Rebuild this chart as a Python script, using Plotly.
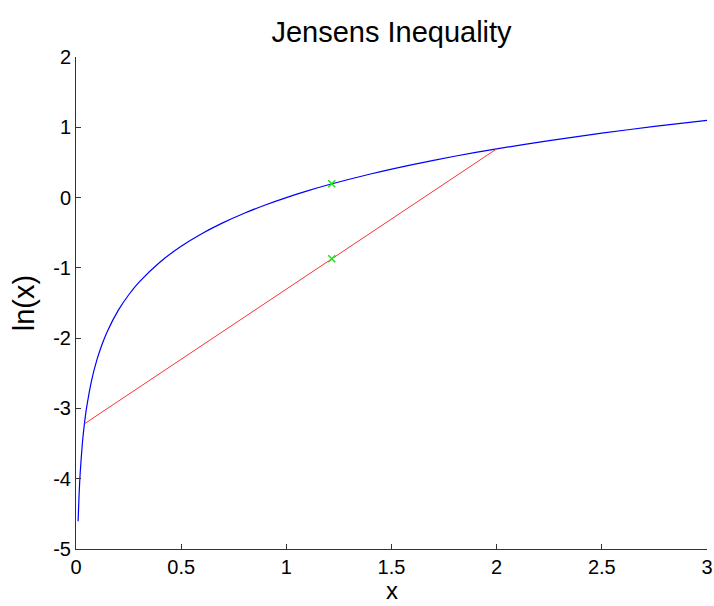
import plotly.graph_objects as go

# blue curve ln(x)
curve_x = [0.01, 0.015, 0.02, 0.03, 0.04, 0.05, 0.075, 0.1, 0.125, 0.15, 0.2, 0.25, 0.3, 0.4,
           0.5, 0.6, 0.7, 0.8, 0.9, 1.0, 1.1, 1.2, 1.4, 1.6, 1.8, 2.0, 2.25, 2.5, 2.75, 3.0]
curve_y = [-4.605, -4.200, -3.912, -3.507, -3.219, -2.996, -2.590, -2.303, -2.079, -1.897,
           -1.609, -1.386, -1.204, -0.916, -0.693, -0.511, -0.357, -0.223, -0.105, 0.0,
           0.095, 0.182, 0.336, 0.470, 0.588, 0.693, 0.811, 0.916, 1.012, 1.099]

# red chord
chord_x = [0.04, 2.0]
chord_y = [-3.219, 0.693]

# green markers
mark_x = [1.216, 1.216]
mark_y = [0.196, -0.87]

fig = go.Figure()
fig.add_trace(go.Scatter(x=curve_x, y=curve_y, mode="lines", line=dict(color="#0000ff", width=1.2, shape="spline", smoothing=0.6)))
fig.add_trace(go.Scatter(x=chord_x, y=chord_y, mode="lines", line=dict(color="#ff3333", width=1)))
fig.add_trace(go.Scatter(x=mark_x, y=mark_y, mode="markers",
                         marker=dict(symbol="x-thin", size=7, line=dict(color="#22dd22", width=1.5))))

FONT = "Liberation Sans, Arial"
axis_common = dict(showline=True, linecolor="#333333", linewidth=1, ticks="inside", ticklen=5,
                   tickcolor="#333333", showgrid=False, zeroline=False, mirror=False, automargin=False,
                   tickfont=dict(family=FONT, size=20, color="black"))

fig.update_layout(
    width=714, height=606,
    margin=dict(l=76, r=7, t=57, b=57),
    paper_bgcolor="white", plot_bgcolor="white",
    showlegend=False,
    title=dict(text="Jensens Inequality", x=0.5483, xanchor="center", y=0.948, yanchor="middle",
               font=dict(family=FONT, size=29, color="black")),
    xaxis=dict(range=[0, 3], tickvals=[0, 0.5, 1, 1.5, 2, 2.5, 3], ticktext=["0", "0.5", "1", "1.5", "2", "2.5", "3"],
               ticklabelstandoff=0, **axis_common),
    yaxis=dict(range=[-5, 2], tickvals=[-5, -4, -3, -2, -1, 0, 1, 2], ticktext=["-5", "-4", "-3", "-2", "-1", "0", "1", "2"],
               title=dict(text="ln(x)", standoff=10, font=dict(family=FONT, size=29, color="black")),
               **axis_common),
    annotations=[dict(text="x", xref="paper", yref="paper", x=0.5, y=-0.1159, xanchor="center", yanchor="bottom",
                      showarrow=False, font=dict(family=FONT, size=24, color="black"))],
)

fig.write_html("out.html")
